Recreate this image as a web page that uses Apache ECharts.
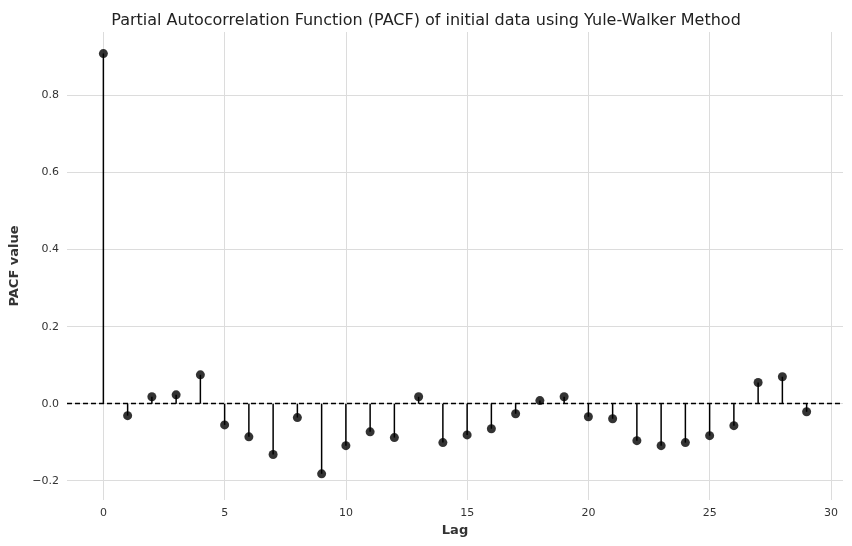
<!DOCTYPE html>
<html>
<head>
<meta charset="utf-8">
<script src="https://cdn.jsdelivr.net/npm/echarts@6/dist/echarts.min.js"></script>
<style>html,body{margin:0;padding:0;background:#fff}#chart{width:852px;height:546px}</style>
</head>
<body>
<div id="chart"></div>
<script>
// PACF values per lag
const lags = [0,1,2,3,4,5,6,7,8,9,10,11,12,13,14,15,16,17,18,19,20,21,22,23,24,25,26,27,28,29];
const pacf = [0.909,-0.031,0.018,0.023,0.075,-0.055,-0.086,-0.132,-0.036,-0.182,
  -0.109,-0.073,-0.088,0.018,-0.101,-0.081,-0.065,-0.026,0.008,0.018,
  -0.034,-0.039,-0.096,-0.109,-0.101,-0.083,-0.057,0.055,0.070,-0.021];
const xTicks = [0,5,10,15,20,25,30];
const yTicks = [-0.2,0,0.2,0.4,0.6,0.8];

const pts = lags.map((l, i) => [l, pacf[i]]);
const chart = echarts.init(document.getElementById('chart'));
const fmt = v => v.toFixed(1).replace('-', '\u2212');
chart.setOption({
  animation: false,
  textStyle: {fontFamily: 'DejaVu Sans'},
  title: {text: 'Partial Autocorrelation Function (PACF) of initial data using Yule-Walker Method',
    left: 'center', top: 8, textStyle: {fontSize: 16, fontWeight: 'normal', color: '#222'}},
  grid: {left: 67, right: 9, top: 32, bottom: 46},
  xAxis: {type: 'value', min: -1.5, max: 30.5,
    name: 'Lag', nameLocation: 'middle', nameGap: 22,
    nameTextStyle: {fontWeight: 'bold', fontSize: 13, color: '#333'},
    axisLine: {show: false},
    axisTick: {show: false, customValues: xTicks},
    axisLabel: {customValues: xTicks, fontSize: 11, color: '#333', formatter: v => String(v)},
    splitLine: {show: true, lineStyle: {color: '#dcdcdc'}}},
  yAxis: {type: 'value', min: -0.25, max: 0.965,
    name: 'PACF value', nameLocation: 'middle', nameGap: 45,
    nameTextStyle: {fontWeight: 'bold', fontSize: 13, color: '#333'},
    axisLine: {show: false},
    axisTick: {show: false, customValues: yTicks},
    axisLabel: {customValues: yTicks, fontSize: 11, color: '#333', formatter: fmt},
    splitLine: {show: true, lineStyle: {color: '#dcdcdc'}}},
  series: [
    {type: 'bar', data: pts, barWidth: 1.5, itemStyle: {color: '#000'}, z: 2,
      markLine: {silent: true, symbol: 'none', label: {show: false},
        lineStyle: {color: '#000', type: [5, 3], width: 1.3},
        data: [{yAxis: 0}]}},
    {type: 'scatter', data: pts, symbolSize: 9, itemStyle: {color: '#000'}, z: 3}
  ]
});
</script>
</body>
</html>
